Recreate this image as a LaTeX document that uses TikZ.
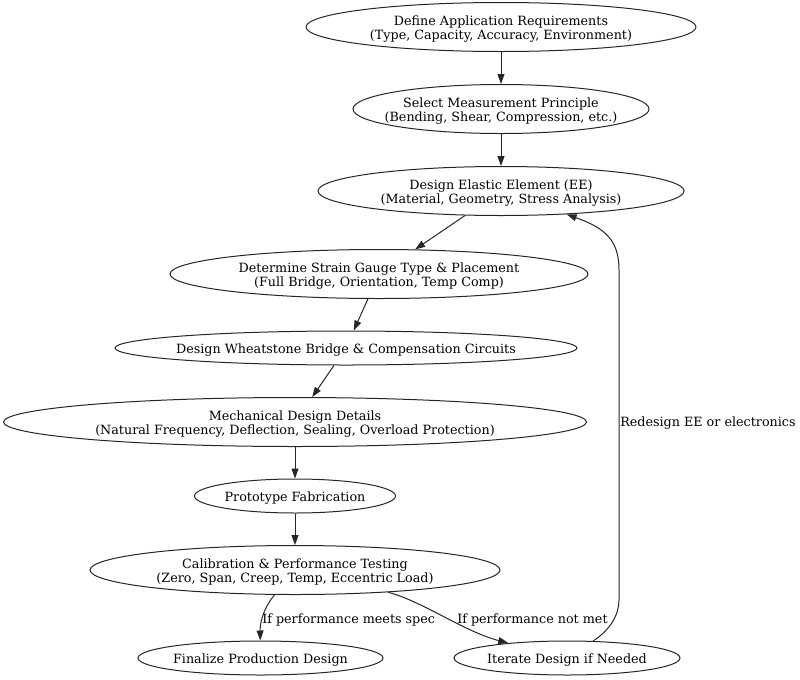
\documentclass[tikz,border=0pt]{standalone}
\usepackage{fontspec}
\setmainfont{DejaVu Serif}
\usetikzlibrary{shapes.geometric,arrows.meta}
\newcommand{\lbl}[1]{\makebox[0pt]{\raisebox{-2.2pt}[\height][\depth]{\fontsize{9.55}{10.5}\selectfont\begin{tabular}{@{}c@{}}#1\end{tabular}}}}
\begin{document}
\begin{tikzpicture}[x=0.75pt,y=-0.75pt,
  box/.style={draw=black!85,line width=0.75pt,ellipse,inner sep=0pt,minimum height=36.75pt},
  flat/.style={box,minimum height=25.5pt},
  arr/.style={draw=black!85,line width=0.75pt,-{Triangle[length=7.5pt,width=5.2pt]}},
  elabel/.style={font=\fontsize{9.55}{10.5}\selectfont,inner sep=0pt,anchor=west}]
\useasboundingbox (0,0) rectangle (800,679);
\node[box,minimum width=292.5pt] (n1) at (501,27) {\lbl{Define Application Requirements\\(Type, Capacity, Accuracy, Environment)}};
\node[box,minimum width=222pt] (n2) at (501,109) {\lbl{Select Measurement Principle\\(Bending, Shear, Compression, etc.)}};
\node[box,minimum width=274.5pt] (n3) at (501,191) {\lbl{Design Elastic Element (EE)\\(Material, Geometry, Stress Analysis)}};
\node[box,minimum width=313.5pt] (n4) at (379,274) {\lbl{Determine Strain Gauge Type \& Placement\\(Full Bridge, Orientation, Temp Comp)}};
\node[flat,minimum width=346.5pt] (n5) at (346,348) {\lbl{Design Wheatstone Bridge \& Compensation Circuits}};
\node[box,minimum width=437.25pt] (n6) at (295,422) {\lbl{Mechanical Design Details\\(Natural Frequency, Deflection, Sealing, Overload Protection)}};
\node[flat,minimum width=150.75pt] (n7) at (295,496) {\lbl{Prototype Fabrication}};
\node[box,minimum width=307.5pt] (n8) at (295,570) {\lbl{Calibration \& Performance Testing\\(Zero, Span, Creep, Temp, Eccentric Load)}};
\node[flat,minimum width=183.75pt] (n9) at (260.5,658) {\lbl{Finalize Production Design}};
\node[flat,minimum width=169.5pt] (n10) at (567,658) {\lbl{Iterate Design if Needed}};
\coordinate (r1) at (619,600);
\coordinate (r2) at (619,270);
\draw[arr] (n1) -- (n2);
\draw[arr] (n2) -- (n3);
\draw[arr] (n3) -- (n4);
\draw[arr] (n4) -- (n5);
\draw[arr] (n5) -- (n6);
\draw[arr] (n6) -- (n7);
\draw[arr] (n7) -- (n8);
\draw[arr] (n8) .. controls (262,610) and (260,625) .. (n9);
\draw[arr] (n8) .. controls (420,600) and (465,632) .. (n10);
\draw[arr] (n10) .. controls (610,630) and (619,615) .. (r1) -- (r2) .. controls (619,240) and (605,228) .. (n3);
\node[elabel] (l1) at (262,619.5) {If performance meets spec};
\node[elabel] (l2) at (457,619.5) {If performance not met};
\node[elabel] (l3) at (620,423) {Redesign EE or electronics};
\end{tikzpicture}
\end{document}
